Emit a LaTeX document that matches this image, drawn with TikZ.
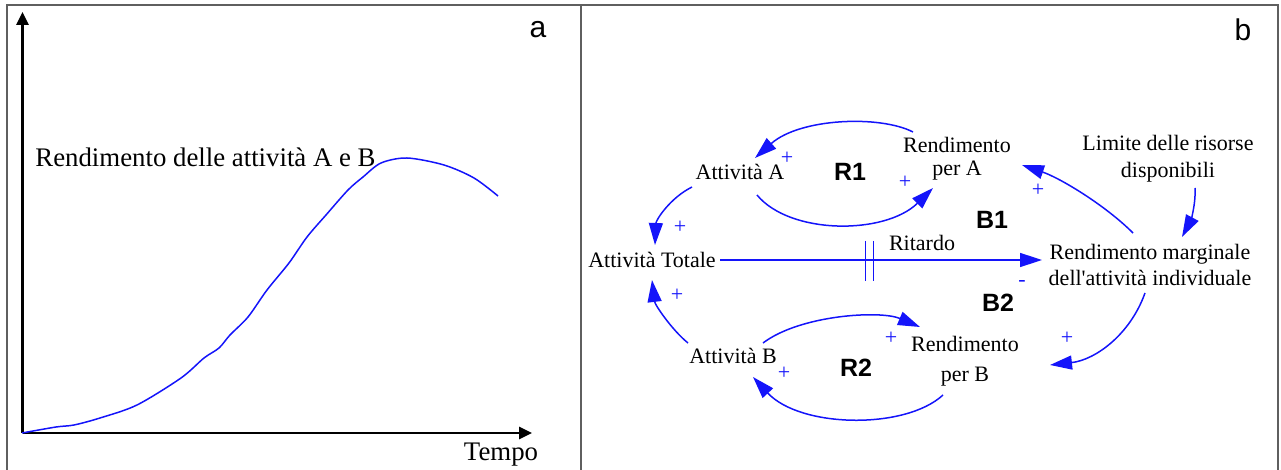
\documentclass[tikz,border=0pt]{standalone}
\usepackage{fontspec}
\setmainfont{Liberation Serif}
\setsansfont{Liberation Sans}
\usetikzlibrary{arrows.meta,calc}
\definecolor{lnblue}{RGB}{20,20,250}
\definecolor{framegray}{RGB}{95,95,95}
\begin{document}
\begin{tikzpicture}[x=0.5pt,y=-0.5pt,
  lbl/.style={font=\fontsize{11}{13}\selectfont, inner sep=0pt, align=center},
  bigl/.style={font=\fontsize{13.4}{15}\selectfont, inner sep=0pt},
  loopl/.style={font=\sffamily\bfseries\fontsize{12.5}{14}\selectfont, inner sep=0pt},
  panl/.style={font=\sffamily\fontsize{15}{17}\selectfont, inner sep=0pt},
  sgn/.style={font=\fontsize{11}{12}\selectfont, text=lnblue, inner sep=0pt},
  arr/.style={draw=lnblue, line width=0.75pt, -{Triangle[length=11pt,width=7pt]}},
  axis/.style={draw=black, line width=1.3pt, -{Triangle[length=6.5pt,width=6pt]}},
  frm/.style={draw=framegray, line width=0.9pt}]
\useasboundingbox (0,0) rectangle (1281,470);
% frame
\draw[frm] (7,475) -- (7,5) -- (1278,5) -- (1278,475);
\draw[frm] (581,5) -- (581,475);

% ---------- panel a ----------
\coordinate (o) at (22.5,433);
\coordinate (ytop) at (22.5,12);
\coordinate (xend) at (532,433);
\draw[axis] (o) -- (ytop);
\draw[axis] (o) -- (xend);
\draw[lnblue, line width=0.75pt] plot[smooth, tension=0.5] coordinates {
 (22,433) (56,427) (74,425) (100,418) (137,405) (181,378) (204,358) (219,348)
 (230,335) (248,317) (267,290) (289,263) (307,237) (326,215) (348,190) (363,177)
 (381,163) (407,158) (444,165) (474,178) (498,196)};
\node[bigl, anchor=west] (rlab) at (35,157) {Rendimento delle attività A e B};
\node[bigl] (tempo) at (501,455) {Tempo};
\node[panl] (pa) at (538,30) {a};

% ---------- panel b ----------
\node[panl] (pb) at (1243,30) {b};
\node[lbl] (aA) at (740,172) {Attività A};
\node[lbl, font=\fontsize{11}{11.5}\selectfont] (rA) at (957,159) {Rendimento\\per A};
\node[lbl] (aT) at (652,260) {Attività Totale};
\node[lbl] (rm) at (1150,265) {Rendimento marginale\\dell\textquotesingle attività individuale};
\node[lbl, font=\fontsize{11}{13.5}\selectfont] (lim) at (1168,159) {Limite delle risorse\\disponibili};
\node[lbl] (aB) at (733,356) {Attività B};
\node[lbl, font=\fontsize{11}{15}\selectfont] (rB) at (965,361) {Rendimento\\per B};
\node[lbl] (rit) at (922,243) {Ritardo};

\node[loopl] (R1) at (850,172) {R1};
\node[loopl] (B1) at (992,220) {B1};
\node[loopl] (B2) at (998,303) {B2};
\node[loopl] (R2) at (856,368) {R2};

% connectors
\draw[arr] ([shift={(-44,-27)}]rA.center) .. controls (880,115) and (800,118) .. ([shift={(15,-14)}]aA.center);
\draw[arr] ([shift={(17,23)}]aA.center) .. controls (790,235) and (885,235) .. ([shift={(-24,29)}]rA.center);
\draw[arr] ([shift={(-48,15)}]aA.center) .. controls (670,198) and (656,220) .. ([shift={(3,-15)}]aT.center);
\draw[arr] ([shift={(68,0)}]aT.center) -- coordinate[pos=0.465] (dl) ([shift={(-108,-5)}]rm.center);
\draw[arr] ([shift={(-45,-13)}]aB.center) .. controls (672,330) and (655,305) .. ([shift={(0,20)}]aT.center);
\draw[arr] ([shift={(30,-13)}]aB.center) .. controls (800,315) and (880,310) .. ([shift={(-45,-34)}]rB.center);
\draw[arr] ([shift={(-22,34)}]rB.center) .. controls (905,430) and (800,428) .. ([shift={(20,21)}]aB.center);
\draw[arr] ([shift={(-17,-32)}]rm.center) .. controls (1105,205) and (1060,178) .. ([shift={(65,6)}]rA.center);
\draw[arr] ([shift={(-5,28)}]rm.center) .. controls (1130,335) and (1095,360) .. ([shift={(85,4)}]rB.center);
\draw[arr] ([shift={(27,29)}]lim.center) .. controls (1196,205) and (1190,222) .. ([shift={(32,-28)}]rm.center);
% delay mark
\draw[lnblue, line width=0.75pt] ([shift={(-4,-19)}]dl) -- ([shift={(-4,21)}]dl)
  ([shift={(4,-19)}]dl) -- ([shift={(4,21)}]dl);

% polarity signs
\node[sgn] (s1) at (787,158) {+};
\node[sgn] (s2) at (905,182) {+};
\node[sgn] (s3) at (680,227) {+};
\node[sgn] (s4) at (677,295) {+};
\node[sgn] (s5) at (891,338) {+};
\node[sgn] (s6) at (784,373) {+};
\node[sgn] (s7) at (1038,190) {+};
\node[sgn] (s8) at (1022,283) {-};
\node[sgn] (s9) at (1067,338) {+};
\end{tikzpicture}
\end{document}
